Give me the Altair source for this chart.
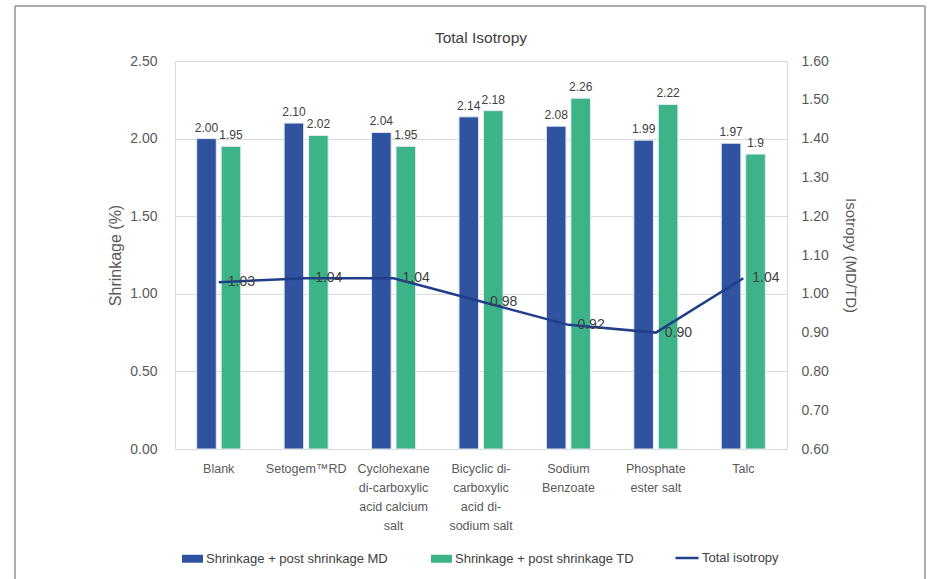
import altair as alt
import pandas as pd

FONT = "Liberation Sans, Arial, sans-serif"

categories = ["Blank", "Setogem™RD", "Cyclohexane|di-carboxylic|acid calcium|salt",
              "Bicyclic di-|carboxylic|acid di-|sodium salt", "Sodium|Benzoate",
              "Phosphate|ester salt", "Talc"]
md_values = [2.00, 2.10, 2.04, 2.14, 2.08, 1.99, 1.97]
md_labels = ["2.00", "2.10", "2.04", "2.14", "2.08", "1.99", "1.97"]
td_values = [1.95, 2.02, 1.95, 2.18, 2.26, 2.22, 1.90]
td_labels = ["1.95", "2.02", "1.95", "2.18", "2.26", "2.22", "1.9"]
iso_values = [1.03, 1.04, 1.04, 0.98, 0.92, 0.90, 1.04]
iso_labels = ["1.03", "1.04", "1.04", "0.98", "0.92", "0.90", "1.04"]
left_ticks = [0, 0.5, 1.0, 1.5, 2.0, 2.5]
right_ticks = [0.6, 0.7, 0.8, 0.9, 1.0, 1.1, 1.2, 1.3, 1.4, 1.5, 1.6]

s_md = "Shrinkage + post shrinkage MD"
s_td = "Shrinkage + post shrinkage TD"
s_iso = "Total isotropy"

bar_rows = []
for c, v, l in zip(categories, md_values, md_labels):
    bar_rows.append({"category": c, "series": s_md, "value": v, "label": l})
for c, v, l in zip(categories, td_values, td_labels):
    bar_rows.append({"category": c, "series": s_td, "value": v, "label": l})
bar_df = pd.DataFrame(bar_rows)
line_df = pd.DataFrame({"category": categories, "series": s_iso,
                        "value": iso_values, "label": iso_labels})

x_enc = alt.X("category:N", sort=categories,
              scale=alt.Scale(paddingInner=0, paddingOuter=0),
              axis=alt.Axis(title=None, labelAngle=0, labelExpr="split(datum.label, '|')",
                            labelLineHeight=19, labelFontSize=12.5, labelColor="#595959",
                            labelPadding=19, labelLimit=0, domain=False, ticks=False,
                            labelFont=FONT, labelBaseline="middle"))
xoff = alt.XOffset("series:N", sort=[s_md, s_td],
                   scale=alt.Scale(paddingInner=0.2, paddingOuter=0.886))

y_left = alt.Y("value:Q", scale=alt.Scale(domain=[0, 2.5], nice=False),
               axis=alt.Axis(title="Shrinkage (%)", values=left_ticks,
                             format=".2f", grid=True, gridColor="#d9d9d9", domain=False,
                             ticks=False, labelPadding=18, labelFontSize=14,
                             labelOverlap=False,
                             labelColor="#595959", titleFontSize=16, titleColor="#595959",
                             titleFontWeight="normal", titlePadding=6, labelFont=FONT,
                             titleFont=FONT))
bar_color = alt.Color("series:N", sort=[s_md, s_td],
                      scale=alt.Scale(domain=[s_md, s_td], range=["#2F539F", "#3DB488"]),
                      legend=alt.Legend(title=None, orient="none", legendX=7, legendY=487,
                                        direction="horizontal",
                                        symbolType="M-1,-0.38L1,-0.38L1,0.38L-1,0.38Z",
                                        symbolSize=441, symbolStrokeWidth=0,
                                        labelFontSize=13, labelColor="#404040",
                                        labelFont=FONT, labelOffset=3, columnPadding=43,
                                        labelLimit=0))

bars = alt.Chart(bar_df).mark_bar(stroke="#e3e9f1", strokeWidth=1).encode(
    x=x_enc, xOffset=xoff, y=y_left, color=bar_color)
bar_text = alt.Chart(bar_df).mark_text(baseline="bottom", dy=-4, fontSize=12,
                                       color="#404040", font=FONT).encode(
    x=x_enc, xOffset=xoff, y=y_left, text="label:N")
left_layer = alt.layer(bars, bar_text)

y_right = alt.Y("value:Q", scale=alt.Scale(domain=[0.6, 1.6], nice=False),
                axis=alt.Axis(orient="right", title="Isotropy (MD/TD)",
                              values=right_ticks, labelOverlap=False, tickCount=11,
                              format=".2f", grid=False, domain=False, ticks=False,
                              labelPadding=14, labelFontSize=14, labelColor="#595959",
                              titleFontSize=15, titleColor="#595959",
                              titleFontWeight="normal", titlePadding=14, labelFont=FONT,
                              titleFont=FONT))
line_color = alt.Color("series:N", scale=alt.Scale(domain=[s_iso], range=["#203E8A"]),
                       legend=alt.Legend(title=None, orient="none", legendX=499, legendY=484,
                                         symbolType="stroke", symbolSize=529,
                                         symbolStrokeWidth=2.5, labelFontSize=13,
                                         labelColor="#404040", labelFont=FONT,
                                         labelOffset=2))
line = alt.Chart(line_df).mark_line(strokeWidth=2.5).encode(
    x=x_enc, y=y_right, color=line_color)
line_text = alt.Chart(line_df).mark_text(align="left", baseline="middle", dx=9,
                                         fontSize=14, color="#404040", font=FONT).encode(
    x=x_enc, y=y_right, text="label:N")
right_layer = alt.layer(line, line_text)

frame_data = alt.Data(values=[{"k": 1}])
frame_left = alt.Chart(frame_data).mark_rule(color="#8c9099", strokeWidth=1.5).encode(
    x=alt.value(-160), y=alt.value(-55), y2=alt.value(520))
frame_top = alt.Chart(frame_data).mark_rule(color="#8c9099", strokeWidth=1.5).encode(
    x=alt.value(-160), x2=alt.value(750), y=alt.value(-55))
frame_right = alt.Chart(frame_data).mark_rule(color="#8c9099", strokeWidth=1.5).encode(
    x=alt.value(750), y=alt.value(-55), y2=alt.value(520))

chart = alt.layer(left_layer, right_layer, frame_left, frame_top, frame_right).resolve_scale(
    y="independent", color="independent"
).properties(
    width=612, height=388,
    title=alt.TitleParams("Total Isotropy", fontSize=15.5, fontWeight="normal",
                          color="#404040", font=FONT, anchor="middle", offset=-41),
    autosize=alt.AutoSizeParams(type="none"),
    padding={"left": 175, "top": 61, "right": 152, "bottom": 130},
).configure_view(stroke=None).configure(background="white")

chart.save("out.html", embed_options={"renderer": "svg", "actions": False})
